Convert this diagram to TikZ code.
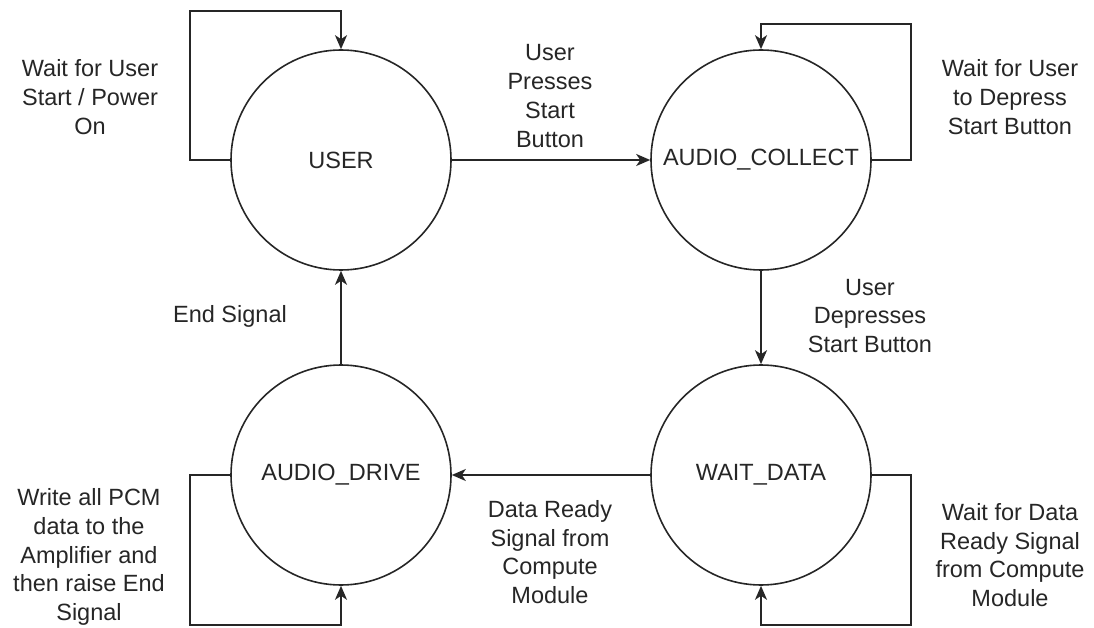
\documentclass[tikz,border=0pt]{standalone}
\usepackage{fontspec}
\setmainfont{Liberation Sans}
\usetikzlibrary{arrows.meta}
\begin{document}
\begin{tikzpicture}[x=1pt,y=-1pt,
  state/.style={circle,draw=black!85,line width=1.6pt,minimum size=220pt,inner sep=0pt,font=\fontsize{23.5}{28.8}\selectfont,text=black!85},
  lbl/.style={align=center,font=\fontsize{23.5}{28.8}\selectfont,text=black!85,inner sep=0pt},
  conn/.style={draw=black!85,line width=2pt,-{Stealth[length=14pt,width=12pt,inset=4pt]}}]
\useasboundingbox (0,0) rectangle (1094,628);
\node[state] (U)  at (341,160) {USER};
\node[state] (AC) at (761,160) {AUDIO\_COLLECT};
\node[state] (AD) at (341,475) {AUDIO\_DRIVE};
\node[state] (WD) at (761,475) {WAIT\_DATA};
% transitions
\draw[conn] (U.east) -- (AC.west);
\draw[conn] (AC.south) -- (WD.north);
\draw[conn] (WD.west) -- (AD.east);
\draw[conn] (AD.north) -- (U.south);
% self loops
\draw[conn] (U.west) -- ++(-40,0) -- ++(0,-149) -| (U.north);
\draw[conn] (AC.east) -- ++(39,0) -- ++(0,-136) -| (AC.north);
\draw[conn] (AD.west) -- ++(-40,0) -- ++(0,150) -| (AD.south);
\draw[conn] (WD.east) -- ++(39,0) -- ++(0,150) -| (WD.south);
% labels
\node[lbl] (l1) at (90,97) {Wait for User\\Start / Power\\On};
\node[lbl] (l2) at (550,96) {User\\Presses\\Start\\Button};
\node[lbl] (l3) at (1010,97) {Wait for User\\to Depress\\Start Button};
\node[lbl] (l4) at (870,316) {User\\Depresses\\Start Button};
\node[lbl] (l5) at (230,316) {End Signal};
\node[lbl] (l6) at (89,557) {Write all PCM\\data to the\\Amplifier and\\then raise End\\Signal};
\node[lbl] (l7) at (550,552) {Data Ready\\Signal from\\Compute\\Module};
\node[lbl] (l8) at (1010,555) {Wait for Data\\Ready Signal\\from Compute\\Module};
\end{tikzpicture}
\end{document}
